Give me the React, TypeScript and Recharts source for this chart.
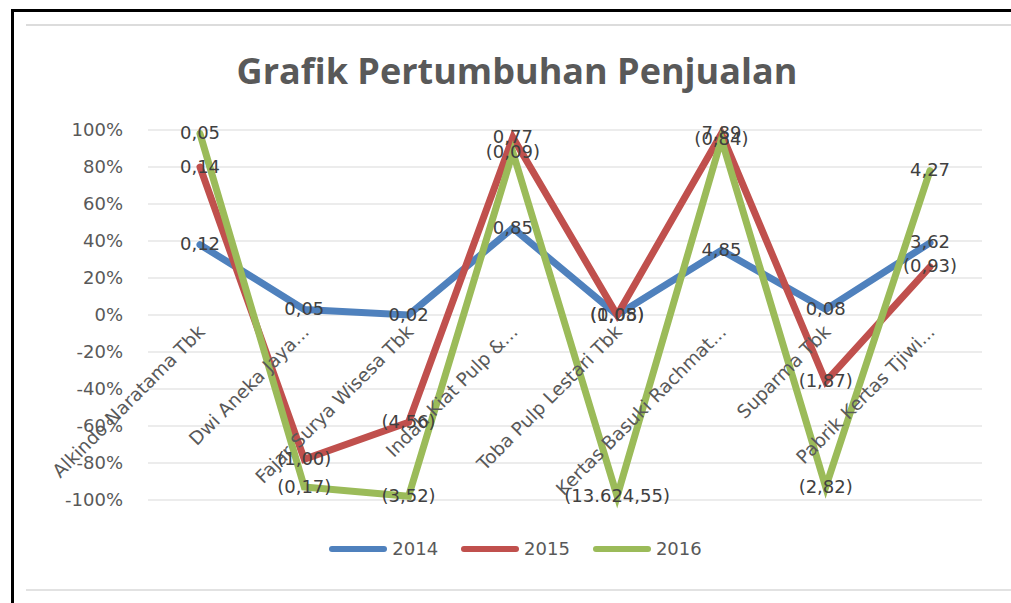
import React from 'react';
import { LineChart, Line, XAxis, YAxis, CartesianGrid, LabelList } from 'recharts';

const categories = [
  'Alkindo Naratama Tbk',
  'Dwi Aneka Jaya...',
  'Fajar Surya Wisesa Tbk',
  'Indah Kiat Pulp &...',
  'Toba Pulp Lestari Tbk',
  'Kertas Basuki Rachmat...',
  'Suparma Tbk',
  'Pabrik Kertas Tjiwi...',
];

// plotted positions (percent)
const values2014 = [38, 3, 0, 47, 0, 35, 3, 39];
const values2015 = [80, -78, -58, 96, 0, 98, -36, 26];
const values2016 = [98, -93, -98, 88, -98, 95, -93, 78];

// data label texts shown next to each point
const labels2014 = ['0,12', '0,05', '0,02', '0,85', '(0,05)', '4,85', '0,08', '3,62'];
const labels2015 = ['0,14', '(1,00)', '(4,56)', '0,77', '(1,08)', '7,89', '(1,87)', '(0,93)'];
const labels2016 = ['0,05', '(0,17)', '(3,52)', '(0,09)', '(13.624,55)', '(0,84)', '(2,82)', '4,27'];

const yTicks = [-100, -80, -60, -40, -20, 0, 20, 40, 60, 80, 100];

const series = [
  { key: 'y2014', name: '2014', color: '#4F81BD', labelKey: 'l2014' },
  { key: 'y2015', name: '2015', color: '#C0504D', labelKey: 'l2015' },
  { key: 'y2016', name: '2016', color: '#9BBB59', labelKey: 'l2016' },
];

const data = categories.map((name, i) => ({
  name,
  base: 0,
  y2014: values2014[i],
  y2015: values2015[i],
  y2016: values2016[i],
  l2014: labels2014[i],
  l2015: labels2015[i],
  l2016: labels2016[i],
}));

const FONT = '"DejaVu Sans", sans-serif';

const PointLabel = (props: any) => {
  const { x, y, value } = props;
  if (x == null || y == null) return null;
  return (
    <text x={x} y={y} dy={-1} textAnchor="middle" dominantBaseline="central" fontFamily={FONT} fontSize={18} fill="#404040">
      {value}
    </text>
  );
};

// category names sit on the 0% line, like Excel's axis crossing at zero
const CategoryLabel = (props: any) => {
  const { x, y, index } = props;
  if (x == null || y == null) return null;
  const tx = x + 6;
  const ty = y + 18;
  return (
    <text
      x={tx}
      y={ty}
      textAnchor="end"
      fontFamily={FONT}
      fontSize={18.5}
      fill="#595959"
      transform={`rotate(-45 ${tx} ${ty})`}
    >
      {categories[index]}
    </text>
  );
};

const App = () => {
  return (
    <div style={{ position: 'absolute', left: 0, top: 0, width: 1011, height: 603, background: '#fff', overflow: 'hidden' }}>
      <div style={{ position: 'absolute', left: 11, top: 9, width: 1100, height: 700, borderLeft: '3px solid #000', borderTop: '3px solid #000' }} />
      <div style={{ position: 'absolute', left: 26, top: 24, width: 985, height: 2, background: '#dcdcdc' }} />
      <div style={{ position: 'absolute', left: 26, top: 589, width: 985, height: 2, background: '#e2e2e2' }} />
      <div
        style={{
          position: 'absolute',
          left: 0,
          top: 46,
          width: 1034,
          textAlign: 'center',
          fontFamily: '"Open Sans", sans-serif',
          fontWeight: 700,
          fontSize: 36,
          color: '#595959',
        }}
      >
        Grafik Pertumbuhan Penjualan
      </div>
      <div style={{ position: 'absolute', left: 0, top: 0 }}>
        <LineChart width={1011} height={603} data={data} margin={{ top: 130, right: 29, bottom: 103, left: 48 }}>
          <CartesianGrid vertical={false} stroke="#d9d9d9" />
          <XAxis dataKey="name" hide padding={{ left: 52, right: 52 }} />
          <YAxis
            domain={[-100, 100]}
            ticks={yTicks}
            width={100}
            axisLine={false}
            tickLine={false}
            tickSize={0}
            tickMargin={25}
            tickFormatter={(v: number) => `${v}%`}
            tick={{ fontFamily: FONT, fontSize: 18, fill: '#595959' }}
          />
          <Line dataKey="base" stroke="none" dot={false} isAnimationActive={false} legendType="none">
            <LabelList dataKey="name" content={<CategoryLabel />} />
          </Line>
          {series.map((s) => (
            <Line
              key={s.key}
              dataKey={s.key}
              name={s.name}
              stroke={s.color}
              strokeWidth={7}
              strokeLinecap="round"
              dot={false}
              isAnimationActive={false}
            >
              <LabelList dataKey={s.labelKey} content={<PointLabel />} />
            </Line>
          ))}
        </LineChart>
      </div>
      <div
        style={{
          position: 'absolute',
          left: 0,
          top: 538,
          width: 1030,
          display: 'flex',
          justifyContent: 'center',
          gap: 22,
          fontFamily: FONT,
          fontSize: 18,
          color: '#595959',
        }}
      >
        {series.map((s) => (
          <div key={s.key} style={{ display: 'flex', alignItems: 'center', gap: 4 }}>
            <svg width={60} height={10}>
              <line x1={4} y1={5} x2={56} y2={5} stroke={s.color} strokeWidth={6} strokeLinecap="round" />
            </svg>
            <span>{s.name}</span>
          </div>
        ))}
      </div>
    </div>
  );
};

export default App;
